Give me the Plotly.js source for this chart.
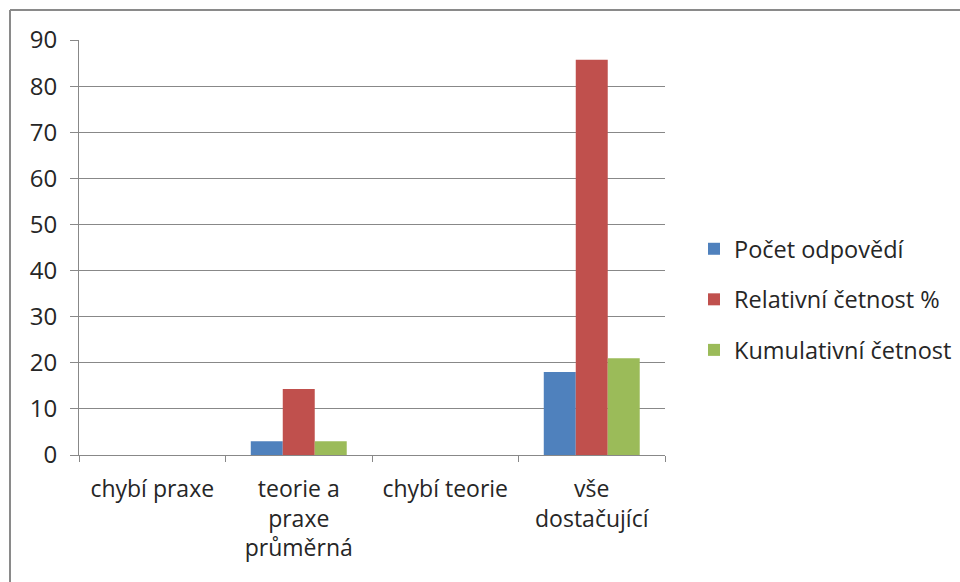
<!DOCTYPE html>
<html>
<head>
<meta charset="utf-8">
<script src="https://cdn.plot.ly/plotly-3.0.1.min.js"></script>
<style>
  html, body { margin: 0; padding: 0; background: #ffffff; }
  #chart { width: 960px; height: 582px; }
</style>
</head>
<body>
<div id="chart"></div>
<script>
// ---- data ----
const categories = ['chybí praxe', 'teorie a praxe průměrná', 'chybí teorie', 'vše dostačující'];
const tickLabels = ['chybí praxe', 'teorie a<br>praxe<br>průměrná', 'chybí teorie', 'vše<br>dostačující'];
const seriesNames = ['Počet odpovědí', 'Relativní četnost %', 'Kumulativní četnost'];
const pocetOdpovedi = [0, 3, 0, 18];
const relativniCetnost = [0, 14.29, 0, 85.71];
const kumulativniCetnost = [0, 3, 0, 21];
const yTicks = [0, 10, 20, 30, 40, 50, 60, 70, 80, 90];

const colors = ['#4F81BD', '#C0504D', '#9BBB59'];
const seriesValues = [pocetOdpovedi, relativniCetnost, kumulativniCetnost];

const traces = seriesValues.map((vals, i) => ({
  type: 'bar',
  name: seriesNames[i],
  x: categories,
  y: vals,
  marker: { color: colors[i], line: { width: 0 } },
  legendgroup: 'g' + i,
  hoverinfo: 'x+y+name'
}));

const fontFamily = '"Open Sans", "DejaVu Sans", sans-serif';
const textColor = '#262626';
const gridColor = '#888888';

// plot area geometry (px) used for the frame position
const L = 79, R = 295, T = 40, B = 127, W = 960, H = 582;
const pw = W - L - R, ph = H - T - B;
const px = v => (v - L) / pw;
const py = v => (H - B - v) / ph;

const layout = {
  width: W,
  height: H,
  margin: { l: L, r: R, t: T, b: B, pad: 0, autoexpand: false },
  paper_bgcolor: '#ffffff',
  plot_bgcolor: '#ffffff',
  font: { family: fontFamily, size: 23, color: textColor },
  barmode: 'group',
  bargap: 0.345,
  bargroupgap: 0,
  showlegend: true,
  legend: {
    x: px(694), xanchor: 'left',
    y: py(227), yanchor: 'top',
    font: { family: fontFamily, size: 23.5, color: textColor },
    traceorder: 'grouped',
    tracegroupgap: 17,
    bgcolor: 'rgba(0,0,0,0)',
    borderwidth: 0
  },
  xaxis: {
    type: 'category',
    tickmode: 'array',
    tickvals: categories,
    ticktext: tickLabels,
    tickson: 'boundaries',
    ticks: 'outside',
    ticklen: 6,
    tickcolor: gridColor,
    tickwidth: 1,
    ticklabelstandoff: 13,
    showline: true,
    linecolor: gridColor,
    linewidth: 1,
    showgrid: false,
    zeroline: false,
    automargin: false,
    tickfont: { family: fontFamily, size: 23, color: textColor },
    fixedrange: true
  },
  yaxis: {
    range: [0, 90],
    tickmode: 'array',
    tickvals: yTicks,
    ticktext: yTicks.map(String),
    ticks: 'outside',
    ticklen: 8,
    tickcolor: gridColor,
    tickwidth: 1,
    ticklabelstandoff: 8,
    showline: true,
    linecolor: gridColor,
    linewidth: 1,
    showgrid: true,
    gridcolor: gridColor,
    gridwidth: 1,
    zeroline: false,
    automargin: false,
    tickfont: { family: fontFamily, size: 24, color: textColor },
    fixedrange: true
  },
  shapes: [
    { type: 'line', xref: 'paper', yref: 'paper',
      x0: px(10), y0: py(10), x1: px(980), y1: py(10),
      line: { color: '#8a8a8a', width: 2 } },
    { type: 'line', xref: 'paper', yref: 'paper',
      x0: px(10), y0: py(10), x1: px(10), y1: py(600),
      line: { color: '#8a8a8a', width: 2 } }
  ]
};

Plotly.newPlot('chart', traces, layout, { displayModeBar: false, staticPlot: true });
</script>
</body>
</html>
